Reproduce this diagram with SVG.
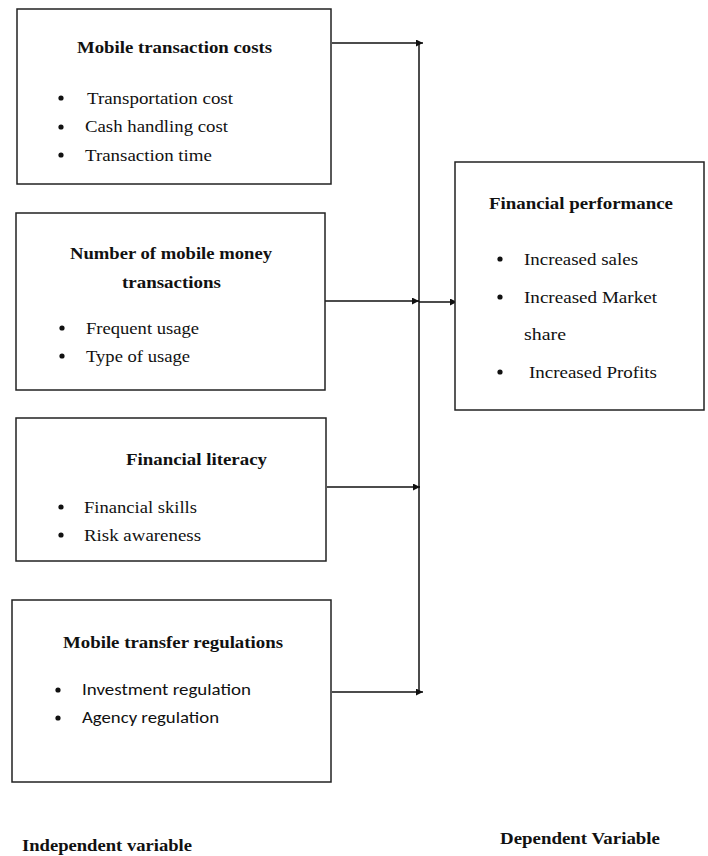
<svg xmlns="http://www.w3.org/2000/svg" width="708" height="856" viewBox="0 0 708 856">
<style>
.box{fill:#fff;stroke:#222;stroke-width:1.5}
.t{font-family:"Liberation Serif","Times New Roman",serif;font-weight:bold;font-size:17px;fill:#111}
.i{font-family:"Liberation Serif","Times New Roman",serif;font-size:17px;fill:#111}
.s{font-family:"Carlito","Liberation Sans",Arial,sans-serif;font-size:15.5px;fill:#111}
.b{fill:#111}
.c{stroke:#111;stroke-width:1.5;fill:none}
</style>
<defs>
<marker id="ah" viewBox="0 0 10 10" refX="10" refY="5" markerWidth="7" markerHeight="7" markerUnits="userSpaceOnUse" orient="auto">
<path d="M0,0 L10,5 L0,10 z" fill="#111"/>
</marker>
</defs>
<rect width="708" height="856" fill="#fff"/>
<g id="connectors">
<line class="c" x1="419" y1="43" x2="419" y2="692"/>
<line class="c" x1="332" y1="43" x2="423" y2="43" marker-end="url(#ah)"/>
<line class="c" x1="325" y1="301" x2="419" y2="301" marker-end="url(#ah)"/>
<line class="c" x1="419" y1="302" x2="457" y2="302" marker-end="url(#ah)"/>
<line class="c" x1="327" y1="487" x2="420" y2="487" marker-end="url(#ah)"/>
<line class="c" x1="332" y1="692" x2="423" y2="692" marker-end="url(#ah)"/>
</g>
<g id="mobile-transaction-costs">
<rect class="box" x="17" y="9" width="314" height="175"/>
<text class="t" x="77" y="53" textLength="195" lengthAdjust="spacingAndGlyphs">Mobile transaction costs</text>
<circle class="b" cx="61" cy="98" r="2.6"/>
<circle class="b" cx="61" cy="127" r="2.6"/>
<circle class="b" cx="61" cy="155" r="2.6"/>
<text class="i" x="87" y="104" textLength="146" lengthAdjust="spacingAndGlyphs">Transportation cost</text>
<text class="i" x="85" y="132" textLength="143" lengthAdjust="spacingAndGlyphs">Cash handling cost</text>
<text class="i" x="85" y="161" textLength="127" lengthAdjust="spacingAndGlyphs">Transaction time</text>
</g>
<g id="number-of-transactions">
<rect class="box" x="16" y="213" width="309" height="177"/>
<text class="t" x="70" y="259" textLength="202" lengthAdjust="spacingAndGlyphs">Number of mobile money</text>
<text class="t" x="122" y="288" textLength="99" lengthAdjust="spacingAndGlyphs">transactions</text>
<circle class="b" cx="62" cy="328" r="2.6"/>
<circle class="b" cx="62" cy="356" r="2.6"/>
<text class="i" x="86" y="334" textLength="113" lengthAdjust="spacingAndGlyphs">Frequent usage</text>
<text class="i" x="86" y="362" textLength="104" lengthAdjust="spacingAndGlyphs">Type of usage</text>
</g>
<g id="financial-literacy">
<rect class="box" x="16" y="418" width="310" height="143"/>
<text class="t" x="126" y="465" textLength="141" lengthAdjust="spacingAndGlyphs">Financial literacy</text>
<circle class="b" cx="61" cy="507" r="2.6"/>
<circle class="b" cx="61" cy="535" r="2.6"/>
<text class="i" x="84" y="513" textLength="113" lengthAdjust="spacingAndGlyphs">Financial skills</text>
<text class="i" x="84" y="541" textLength="117" lengthAdjust="spacingAndGlyphs">Risk awareness</text>
</g>
<g id="mobile-transfer-regulations">
<rect class="box" x="12" y="600" width="319" height="182"/>
<text class="t" x="63" y="648" textLength="220" lengthAdjust="spacingAndGlyphs">Mobile transfer regulations</text>
<circle class="b" cx="58" cy="690" r="2.6"/>
<circle class="b" cx="58" cy="718" r="2.6"/>
<text class="s" x="82" y="695" textLength="169" lengthAdjust="spacingAndGlyphs">Investment regulation</text>
<text class="s" x="82" y="723" textLength="137" lengthAdjust="spacingAndGlyphs">Agency regulation</text>
</g>
<g id="financial-performance">
<rect class="box" x="455" y="162" width="249" height="248"/>
<text class="t" x="489" y="209" textLength="184" lengthAdjust="spacingAndGlyphs">Financial performance</text>
<circle class="b" cx="500" cy="259" r="2.6"/>
<circle class="b" cx="500" cy="297" r="2.6"/>
<circle class="b" cx="500" cy="372" r="2.6"/>
<text class="i" x="524" y="265" textLength="114" lengthAdjust="spacingAndGlyphs">Increased sales</text>
<text class="i" x="524" y="303" textLength="133" lengthAdjust="spacingAndGlyphs">Increased Market</text>
<text class="i" x="524" y="340" textLength="42" lengthAdjust="spacingAndGlyphs">share</text>
<text class="i" x="529" y="378" textLength="128" lengthAdjust="spacingAndGlyphs">Increased Profits</text>
</g>
<g id="labels">
<text class="t" x="22" y="851" textLength="170" lengthAdjust="spacingAndGlyphs">Independent variable</text>
<text class="t" x="500" y="844" textLength="160" lengthAdjust="spacingAndGlyphs">Dependent Variable</text>
</g>
</svg>
